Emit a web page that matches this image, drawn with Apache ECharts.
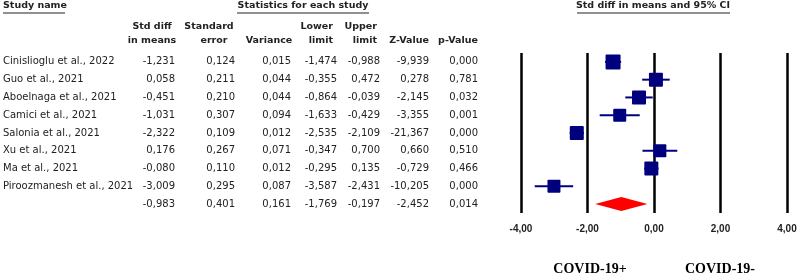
<!DOCTYPE html>
<html><head><meta charset="utf-8">
<script src="https://cdn.jsdelivr.net/npm/echarts@6/dist/echarts.min.js"></script>
<style>html,body{margin:0;padding:0;background:#fff}#c{width:800px;height:276px}</style>
</head><body><div id="c"></div>
<script>
var studies = ["Cinislioglu et al., 2022","Guo et al., 2021","Aboelnaga et al., 2021","Camici et al., 2021","Salonia et al., 2021","Xu et al., 2021","Ma et al., 2021","Piroozmanesh et al., 2021",""];
var stdDiff = [-1.231,0.058,-0.451,-1.031,-2.322,0.176,-0.080,-3.009,-0.983];
var stdErr = [0.124,0.211,0.210,0.307,0.109,0.267,0.110,0.295,0.401];
var variance = [0.015,0.044,0.044,0.094,0.012,0.071,0.012,0.087,0.161];
var lower = [-1.474,-0.355,-0.864,-1.633,-2.535,-0.347,-0.295,-3.587,-1.769];
var upper = [-0.988,0.472,-0.039,-0.429,-2.109,0.700,0.135,-2.431,-0.197];
var zValue = [-9.939,0.278,-2.145,-3.355,-21.367,0.660,-0.729,-10.205,-2.452];
var pValue = [0.000,0.781,0.032,0.001,0.000,0.510,0.466,0.000,0.014];
var markerSize = [15,14,14,13,14,13,14,13];
var xTicks = [-4,-2,0,2,4];

function fmt(v){ return v.toFixed(3).replace('.', ','); }
function fmt2(v){ return v.toFixed(2).replace('.', ','); }

var chart = echarts.init(document.getElementById('c'), null, {renderer:'canvas'});
var tFont = {fontFamily:'DejaVu Sans', fontSize:10, color:'#222'};
var gridLeft = 521;
function colAxis(data, rightEdge){
  return {type:'category', data:data, inverse:true, position:'left', offset: gridLeft - rightEdge,
    axisLine:{show:false}, axisTick:{show:false}, splitLine:{show:false},
    axisLabel:Object.assign({margin:0, align:'right', interval:0}, tFont)};
}
var yAxes = [
  {type:'category', data:studies, inverse:true, position:'left', offset: gridLeft - 3,
   axisLine:{show:false}, axisTick:{show:false}, splitLine:{show:false},
   axisLabel:Object.assign({margin:0, align:'left', interval:0}, tFont)},
  colAxis(stdDiff.map(fmt),175),
  colAxis(stdErr.map(fmt),235),
  colAxis(variance.map(fmt),291),
  colAxis(lower.map(fmt),337),
  colAxis(upper.map(fmt),380),
  colAxis(zValue.map(fmt),429),
  colAxis(pValue.map(fmt),478)
];

var studyData = [];
for (var i=0;i<8;i++) studyData.push([stdDiff[i], i, lower[i], upper[i], markerSize[i]]);
var sumData = [[stdDiff[8], 8, lower[8], upper[8]]];

var hdr = {fontFamily:'DejaVu Sans', fontSize:9.5, fontWeight:'bold', fill:'#222'};
function T(x,y,text,align,extra){ return {type:'text', x:x, y:y, style:Object.assign({text:text, align:align||'center', verticalAlign:'middle'}, hdr, extra||{})}; }
function L(x1,x2,y){ return {type:'line', shape:{x1:x1,y1:y,x2:x2,y2:y}, style:{stroke:'#222', lineWidth:1}}; }

var graphics = [
  T(3,6,'Study name','left'), L(3,65,13),
  T(303,6,'Statistics for each study'), L(237,369,13),
  T(653,6,'Std diff in means and 95% CI'), L(577,730,13),
  T(152,27,'Std diff'), T(152,41,'in means'),
  T(209,27,'Standard'), T(214,41,'error'),
  T(269,41,'Variance'),
  T(333,27,'Lower','right'), T(333,41,'limit','right'),
  T(377,27,'Upper','right'), T(377,41,'limit','right'),
  T(409,41,'Z-Value'), T(458,41,'p-Value'),
  {type:'text', x:590, y:269, style:{text:'COVID-19+', align:'center', verticalAlign:'middle', fontFamily:'Liberation Serif', fontWeight:'bold', fontSize:14, fill:'#000'}},
  {type:'text', x:720, y:269, style:{text:'COVID-19-', align:'center', verticalAlign:'middle', fontFamily:'Liberation Serif', fontWeight:'bold', fontSize:14, fill:'#000'}}
];

chart.setOption({
  animation:false,
  backgroundColor:'#fff',
  grid:{left:gridLeft, right:13, top:53, bottom:63, containLabel:false},
  xAxis:{type:'value', min:-4, max:4, interval:2,
    axisLine:{show:false}, axisTick:{show:false},
    splitLine:{show:true, lineStyle:{color:'#000', width:2.5}},
    axisLabel:{margin:11, fontFamily:'Liberation Sans', fontWeight:'bold', fontSize:10, color:'#222',
      formatter:function(v){ return xTicks.indexOf(v)>=0 ? fmt2(v) : ''; }}},
  yAxis: yAxes,
  graphic: graphics,
  series:[
    {type:'custom', data:studyData, encode:{x:[0,2,3], y:1}, z:5,
     renderItem:function(params, api){
       var c = api.coord([api.value(0), api.value(1)]);
       var lo = api.coord([api.value(2), api.value(1)]);
       var hi = api.coord([api.value(3), api.value(1)]);
       var s = api.value(4);
       return {type:'group', children:[
         {type:'line', shape:{x1:lo[0], y1:c[1], x2:hi[0], y2:c[1]}, style:{stroke:'#00007f', lineWidth:2}},
         {type:'rect', shape:{x:c[0]-s/2, y:c[1]-s/2, width:s, height:s, r:1}, style:{fill:'#00007f'}}
       ]};
     }},
    {type:'custom', data:sumData, encode:{x:[0,2,3], y:1}, z:5,
     renderItem:function(params, api){
       var c = api.coord([api.value(0), api.value(1)]);
       var lo = api.coord([api.value(2), api.value(1)]);
       var hi = api.coord([api.value(3), api.value(1)]);
       return {type:'polygon', shape:{points:[[lo[0],c[1]],[c[0],c[1]-7],[hi[0],c[1]],[c[0],c[1]+7]]}, style:{fill:'#ff0000'}};
     }}
  ]
});
</script></body></html>
